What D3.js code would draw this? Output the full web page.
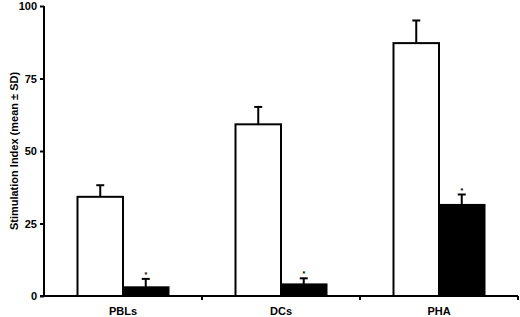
<!DOCTYPE html>
<html><head><meta charset="utf-8">
<script src="https://cdn.jsdelivr.net/npm/d3@7"></script>
<style>body{margin:0;background:#fff}svg{display:block}text{font-family:"Liberation Sans",Arial,sans-serif}</style>
</head><body>
<svg id="c" width="520" height="317"></svg>
<script>
const categories = ["PBLs", "DCs", "PHA"];
const series = ["open", "filled"];
const openValues = [34.2, 59.2, 87.2];
const openSD = [4.0, 6.0, 7.8];
const filledValues = [3.0, 4.0, 31.4];
const filledSD = [2.9, 2.1, 3.6];
const significant = [true, true, true];
const yTicks = [0, 25, 50, 75, 100];
const yTitle = "Stimulation Index (mean \u00b1 SD)";

const svg = d3.select("#c");
const x0 = 44, x1 = 518, yTop = 6, yBot = 296;
const x = d3.scaleBand().domain(categories).range([x0, x1]).paddingInner(0).paddingOuter(0);
const xs = d3.scaleBand().domain(series).range([0, 91]);
const y = d3.scaleLinear().domain([0, 100]).range([yBot, yTop]);

const data = categories.map((c, i) => [
  {cat: c, s: "open", v: openValues[i], sd: openSD[i], sig: false},
  {cat: c, s: "filled", v: filledValues[i], sd: filledSD[i], sig: significant[i]}
]).flat();

const groupOffset = (x.bandwidth() - 91) / 2;
const bx = d => x(d.cat) + groupOffset + xs(d.s);

// error bars (upward only)
const eb = svg.append("g").attr("stroke", "#000");
eb.selectAll("line.v").data(data).join("line")
  .attr("x1", d => bx(d) + xs.bandwidth() / 2).attr("x2", d => bx(d) + xs.bandwidth() / 2)
  .attr("y1", d => y(d.v)).attr("y2", d => y(d.v + d.sd)).attr("stroke-width", 2);
eb.selectAll("line.c").data(data).join("line")
  .attr("x1", d => bx(d) + xs.bandwidth() / 2 - 4).attr("x2", d => bx(d) + xs.bandwidth() / 2 + 4)
  .attr("y1", d => y(d.v + d.sd)).attr("y2", d => y(d.v + d.sd)).attr("stroke-width", 2);

// bars
svg.append("g").selectAll("rect").data(data).join("rect")
  .attr("x", d => bx(d)).attr("width", xs.bandwidth())
  .attr("y", d => y(d.v)).attr("height", d => y(0) - y(d.v))
  .attr("fill", d => d.s === "open" ? "#fff" : "#000")
  .attr("stroke", "#000").attr("stroke-width", 2);

// significance marks
svg.append("g").selectAll("text").data(data.filter(d => d.sig)).join("text")
  .attr("x", d => bx(d) + xs.bandwidth() / 2).attr("y", d => y(d.v + d.sd) - 2)
  .attr("text-anchor", "middle").attr("font-size", 7).attr("font-weight", "bold").text("*");

// y axis
const ya = svg.append("g").attr("transform", `translate(${x0},0)`)
  .call(d3.axisLeft(y).tickValues(yTicks).tickSize(4).tickPadding(3));
ya.select(".domain").attr("stroke-width", 2).attr("d", `M0,${yTop}V${yBot + 1}`);
ya.selectAll(".tick line").attr("stroke-width", 2);
ya.selectAll(".tick text").attr("font-size", 11).attr("font-weight", "bold").attr("fill", "#000")
  .attr("font-family", "'Liberation Sans',Arial,sans-serif");

// x axis
const xa = svg.append("g").attr("transform", `translate(0,${yBot})`)
  .call(d3.axisBottom(x).tickSize(0).tickPadding(11));
xa.select(".domain").attr("stroke-width", 2).attr("d", `M${x0 - 4},0H${x1}`);
xa.selectAll(".tick text").attr("font-size", 11).attr("font-weight", "bold").attr("fill", "#000")
  .attr("font-family", "'Liberation Sans',Arial,sans-serif");
xa.selectAll("line.bd").data(categories).join("line").attr("class", "bd")
  .attr("x1", d => x(d) + x.bandwidth()).attr("x2", d => x(d) + x.bandwidth())
  .attr("y1", 0).attr("y2", 4).attr("stroke", "#000").attr("stroke-width", 2);

// y title
svg.append("text").attr("transform", `translate(14,${(yTop + yBot) / 2}) rotate(-90)`)
  .attr("text-anchor", "middle").attr("dominant-baseline", "central")
  .attr("font-size", 11).attr("font-weight", "bold").text(yTitle);
</script>
</body></html>
